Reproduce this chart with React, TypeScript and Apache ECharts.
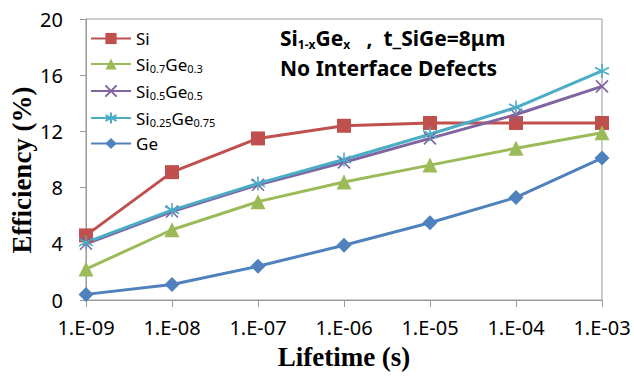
import React, { useEffect, useRef } from "react";
import * as echarts from "echarts";

const categories = ["1.E-09", "1.E-08", "1.E-07", "1.E-06", "1.E-05", "1.E-04", "1.E-03"];
const seriesNames = ["Si", "Si0.7Ge0.3", "Si0.5Ge0.5", "Si0.25Ge0.75", "Ge"];
const siValues = [4.6, 9.1, 11.5, 12.4, 12.6, 12.6, 12.6];
const si07Values = [2.2, 5.0, 7.0, 8.4, 9.6, 10.8, 11.9];
const si05Values = [4.0, 6.3, 8.2, 9.8, 11.5, 13.2, 15.2];
const si025Values = [4.1, 6.4, 8.3, 10.0, 11.8, 13.7, 16.3];
const geValues = [0.4, 1.1, 2.4, 3.9, 5.5, 7.3, 10.1];
const yTicks = { min: 0, max: 20, interval: 4 };

const colors = ["#C0504D", "#9BBB59", "#8064A2", "#4BACC6", "#4F81BD"];
const legendRich: Record<string, string> = {
  "Si": "{n|Si}",
  "Si0.7Ge0.3": "{n|Si}{s|0.7}{n|Ge}{s|0.3}",
  "Si0.5Ge0.5": "{n|Si}{s|0.5}{n|Ge}{s|0.5}",
  "Si0.25Ge0.75": "{n|Si}{s|0.25}{n|Ge}{s|0.75}",
  "Ge": "{n|Ge}",
};
// title pieces: [text, isSubscript]
const titleParts: [string, boolean][] = [["Si", false], ["1-x", true], ["Ge", false], ["x", true], ["   ,  t_SiGe=8μm", false]];
const titleLine2 = "No Interface Defects";
const yName = "Efficiency (%)";

const xSymbol = "path://M0,0L10,10M10,0L0,10";
const starSymbol = "path://M5,0L5,10M0.7,2.5L9.3,7.5M9.3,2.5L0.7,7.5";

export default function App() {
  const ref = useRef<HTMLDivElement>(null);
  useEffect(() => {
    if (!ref.current) return;
    const chart = echarts.init(ref.current, undefined, { renderer: "svg" });
    const sans = "Noto Sans";
    const ctx = document.createElement("canvas").getContext("2d")!;
    const measure = (t: string, size: number) => {
      ctx.font = `bold ${size}px "${sans}"`;
      return ctx.measureText(t).width;
    };
    let tx = 280;
    const titleEls: any[] = [];
    titleParts.forEach(([t, sub]) => {
      const size = sub ? 12 : 21;
      titleEls.push({
        type: "text",
        x: tx,
        y: sub ? 44 : 38,
        style: { text: t, fontFamily: sans, fontSize: size, fontWeight: "bold", fill: "#000", verticalAlign: "middle", align: "left" },
      });
      tx += measure(t, size);
    });

    const mk = (i: number, data: number[], symbol: string, size: number, stroke: boolean) => ({
      name: seriesNames[i],
      type: "line",
      data,
      symbol,
      symbolSize: size,
      lineStyle: { color: colors[i], width: 3 },
      itemStyle: stroke
        ? { color: colors[i], borderColor: colors[i], borderWidth: 1.6 }
        : { color: colors[i] },
      emphasis: { disabled: true },
    });
    chart.setOption({
      animation: false,
      backgroundColor: "#fff",
      grid: { left: 86, top: 19, right: 32, bottom: 76, show: true, borderColor: "#9a9a9a", borderWidth: 1 },
      legend: {
        orient: "vertical",
        left: 85,
        top: 25,
        itemWidth: 40,
        itemHeight: 14,
        itemGap: 7,
        data: seriesNames,
        formatter: (name: string) => legendRich[name] || name,
        textStyle: {
          rich: {
            n: { fontFamily: sans, fontSize: 17, color: "#000", lineHeight: 20 },
            s: { fontFamily: sans, fontSize: 11, color: "#000", lineHeight: 20, verticalAlign: "bottom", padding: [9, 0, 0, 0] },
          },
        },
      },
      graphic: [
        ...titleEls,
        {
          type: "text",
          x: 280,
          y: 68,
          style: { text: titleLine2, fontFamily: sans, fontSize: 21, fontWeight: "bold", fill: "#000", verticalAlign: "middle", align: "left" },
        },
        {
          type: "text",
          x: 22,
          y: 170,
          rotation: Math.PI / 2,
          style: { text: yName, fontFamily: "Liberation Serif", fontSize: 27, fontWeight: "bold", fill: "#000", verticalAlign: "middle", align: "center" },
        },
      ],
      xAxis: {
        type: "category",
        data: categories,
        boundaryGap: false,
        name: "Lifetime (s)",
        nameLocation: "middle",
        nameGap: 43,
        nameTextStyle: { fontFamily: "Liberation Serif", fontSize: 27, fontWeight: "bold", color: "#000" },
        axisLine: { lineStyle: { color: "#9a9a9a", width: 1 } },
        axisTick: { show: true, length: 7, lineStyle: { color: "#9a9a9a" } },
        axisLabel: { fontFamily: sans, fontSize: 20, color: "#000", margin: 17, showMinLabel: true, showMaxLabel: true, interval: 0 },
        splitLine: { show: false },
      },
      yAxis: {
        type: "value",
        min: yTicks.min,
        max: yTicks.max,
        interval: yTicks.interval,
        axisLine: { show: true, lineStyle: { color: "#9a9a9a", width: 1 } },
        axisTick: { show: true, length: 6, lineStyle: { color: "#9a9a9a" } },
        axisLabel: { fontFamily: sans, fontSize: 20, color: "#000", margin: 23 },
        splitLine: { show: false },
      },
      series: [
        mk(0, siValues, "rect", 14, false),
        mk(1, si07Values, "triangle", 15, false),
        mk(2, si05Values, xSymbol, 12, true),
        mk(3, si025Values, starSymbol, 14, true),
        mk(4, geValues, "diamond", 15, false),
      ],
    });
    return () => chart.dispose();
  }, []);
  return <div ref={ref} style={{ width: 634, height: 376, position: "absolute", left: 0, top: 0 }} />;
}
